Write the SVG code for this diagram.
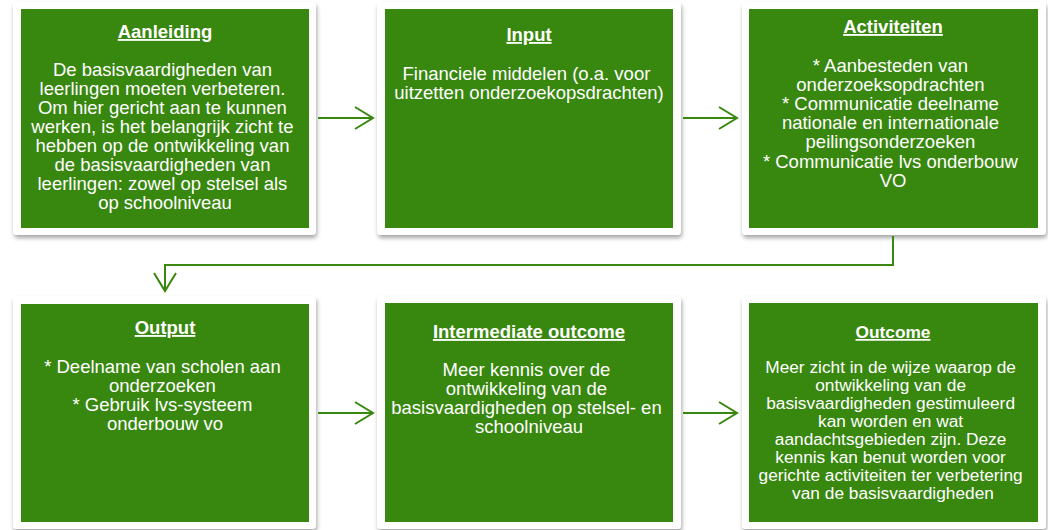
<svg xmlns="http://www.w3.org/2000/svg" width="1048" height="530" viewBox="0 0 1048 530">
  <style>
    .card { fill: #ffffff; filter: url(#shadow); }
    .box { fill: #38870E; }
    text { font-family: "Liberation Sans", Arial, sans-serif; fill: #ffffff; text-anchor: middle; }
    .title { font-size: 18.5px; font-weight: bold; text-decoration: underline; }
    .body { font-size: 18.5px; }
    .small .title { font-size: 17.3px; }
    .small .body { font-size: 17.3px; }
    .conn { stroke: #38870E; stroke-width: 2; fill: none; marker-end: url(#arrow); }
  </style>
  <defs>
    <filter id="shadow" x="-10%" y="-10%" width="120%" height="125%">
      <feDropShadow dx="1" dy="3" stdDeviation="2" flood-color="#000000" flood-opacity="0.35"/>
    </filter>
    <marker id="arrow" markerUnits="userSpaceOnUse" markerWidth="24" markerHeight="26" viewBox="0 0 24 26" refX="21" refY="13" orient="auto">
      <path d="M3,2 L21,13 L3,24" stroke="#38870E" stroke-width="2" fill="none"/>
    </marker>
  </defs>

  <g id="aanleiding">
    <rect class="card" x="13" y="2" width="303" height="233" rx="4"/>
    <rect class="box" x="21" y="9" width="288" height="219"/>
    <text class="title" x="165" y="38">Aanleiding</text>
    <text class="body">
      <tspan x="165" y="76">De basisvaardigheden van</tspan>
      <tspan x="165" y="95">leerlingen moeten verbeteren.</tspan>
      <tspan x="165" y="114">Om hier gericht aan te kunnen</tspan>
      <tspan x="165" y="133">werken, is het belangrijk zicht te</tspan>
      <tspan x="165" y="152">hebben op de ontwikkeling van</tspan>
      <tspan x="165" y="171">de basisvaardigheden van</tspan>
      <tspan x="165" y="190">leerlingen: zowel op stelsel als</tspan>
      <tspan x="165" y="209">op schoolniveau</tspan>
    </text>
  </g>

  <g id="input">
    <rect class="card" x="377" y="2" width="304" height="233" rx="4"/>
    <rect class="box" x="385" y="9" width="288" height="219"/>
    <text class="title" x="529" y="41">Input</text>
    <text class="body">
      <tspan x="529" y="80">Financiele middelen (o.a. voor</tspan>
      <tspan x="529" y="99">uitzetten onderzoekopsdrachten)</tspan>
    </text>
  </g>

  <g id="activiteiten">
    <rect class="card" x="742" y="2" width="304" height="233" rx="4"/>
    <rect class="box" x="749" y="9" width="289" height="219"/>
    <text class="title" x="893" y="33">Activiteiten</text>
    <text class="body">
      <tspan x="893" y="72">* Aanbesteden van</tspan>
      <tspan x="893" y="91">onderzoeksopdrachten</tspan>
      <tspan x="893" y="110">* Communicatie deelname</tspan>
      <tspan x="893" y="129">nationale en internationale</tspan>
      <tspan x="893" y="148">peilingsonderzoeken</tspan>
      <tspan x="893" y="168">* Communicatie lvs onderbouw</tspan>
      <tspan x="893" y="187">VO</tspan>
    </text>
  </g>

  <g id="output">
    <rect class="card" x="13" y="296" width="303" height="233" rx="4"/>
    <rect class="box" x="21" y="304" width="288" height="218"/>
    <text class="title" x="165" y="334">Output</text>
    <text class="body">
      <tspan x="165" y="373">* Deelname van scholen aan</tspan>
      <tspan x="165" y="392">onderzoeken</tspan>
      <tspan x="165" y="411">* Gebruik lvs-systeem</tspan>
      <tspan x="165" y="430">onderbouw vo</tspan>
    </text>
  </g>

  <g id="intermediate-outcome">
    <rect class="card" x="377" y="296" width="304" height="233" rx="4"/>
    <rect class="box" x="385" y="303" width="288" height="219"/>
    <text class="title" x="529" y="338">Intermediate outcome</text>
    <text class="body">
      <tspan x="529" y="376">Meer kennis over de</tspan>
      <tspan x="529" y="395">ontwikkeling van de</tspan>
      <tspan x="529" y="414">basisvaardigheden op stelsel- en</tspan>
      <tspan x="529" y="433">schoolniveau</tspan>
    </text>
  </g>

  <g id="outcome" class="small">
    <rect class="card" x="742" y="296" width="304" height="233" rx="4"/>
    <rect class="box" x="749" y="303" width="289" height="219"/>
    <text class="title" x="893" y="338">Outcome</text>
    <text class="body">
      <tspan x="893" y="373">Meer zicht in de wijze waarop de</tspan>
      <tspan x="893" y="391">ontwikkeling van de</tspan>
      <tspan x="893" y="409">basisvaardigheden gestimuleerd</tspan>
      <tspan x="893" y="427">kan worden en wat</tspan>
      <tspan x="893" y="445">aandachtsgebieden zijn. Deze</tspan>
      <tspan x="893" y="463">kennis kan benut worden voor</tspan>
      <tspan x="893" y="481">gerichte activiteiten ter verbetering</tspan>
      <tspan x="893" y="499">van de basisvaardigheden</tspan>
    </text>
  </g>

  <g id="connectors">
    <line class="conn" x1="318" y1="118" x2="373" y2="118"/>
    <line class="conn" x1="683" y1="118" x2="737" y2="118"/>
    <polyline class="conn" points="893,236 893,265 165,265 165,291"/>
    <line class="conn" x1="318" y1="413" x2="373" y2="413"/>
    <line class="conn" x1="683" y1="413" x2="737" y2="413"/>
  </g>
</svg>
